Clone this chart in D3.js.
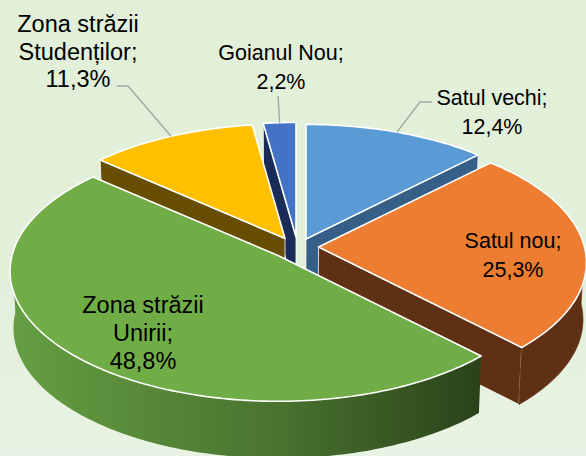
<!DOCTYPE html>
<html>
<head>
<meta charset="utf-8">
<script src="https://cdn.jsdelivr.net/npm/d3@7"></script>
<style>
html,body{margin:0;padding:0;background:#e2efd9;overflow:hidden}
svg{display:block}
text{font-family:"Liberation Sans",Arial,sans-serif;fill:#000}
</style>
</head>
<body>
<svg id="chart" width="586" height="456"></svg>
<script>
// Data (order: clockwise from 12 o'clock)
const categories = ["Satul vechi", "Satul nou", "Zona străzii Unirii", "Zona străzii Studenților", "Goianul Nou"];
const values = [12.4, 25.3, 48.8, 11.3, 2.2];
const labelLines = [
  ["Satul vechi;", "12,4%"],
  ["Satul nou;", "25,3%"],
  ["Zona străzii", "Unirii;", "48,8%"],
  ["Zona străzii", "Studenților;", "11,3%"],
  ["Goianul Nou;", "2,2%"]
];
const topColors  = ["#5b9bd5", "#ed7d31", "#70ad47", "#ffc000", "#4472c4"];
const wallColors = ["#355f86", "#5f3014", "#2b4219", "#664d00", "#1a2d58"];

// Layout
const W = 586, H = 456;
const radiusX = 266, radiusY = 128.3, persp = 0.12, depth = 57, vanish = 0.012, vanishX = 293;
const apexes = [[306, 239], [318.5, 247], [278, 255.5], [285, 238.5], [296, 237]];
const labelPos = [[492, 105], [513, 248], [143, 313], [78, 32], [281, 60]];
const labelSize = [21.5, 21.5, 23.5, 23.5, 21.5];
const lineGap = [28.5, 29, 28, 27.5, 29];
const leaderElbow = [[[432, 102], [420, 102]], null, null, [[117, 86], [128, 86]], [[278, 96]]];
const paintOrder = [4, 3, 0, 1, 2];

const svg = d3.select("#chart");
const defs = svg.append("defs");

const bg = defs.append("linearGradient").attr("id", "bg").attr("x1", 0).attr("y1", 0).attr("x2", 0).attr("y2", 1);
bg.append("stop").attr("offset", 0).attr("stop-color", "#e2efd9");
bg.append("stop").attr("offset", 0.6).attr("stop-color", "#e2efd9");
bg.append("stop").attr("offset", 1).attr("stop-color", "#e9f3e3");
svg.append("rect").attr("width", W).attr("height", H).attr("fill", "url(#bg)");

const sideGrad = defs.append("linearGradient").attr("id", "greenSide")
  .attr("gradientUnits", "userSpaceOnUse").attr("x1", 12).attr("y1", 0).attr("x2", 481).attr("y2", 0);
sideGrad.append("stop").attr("offset", 0).attr("stop-color", "#659e42");
sideGrad.append("stop").attr("offset", 0.55).attr("stop-color", "#4a7530");
sideGrad.append("stop").attr("offset", 1).attr("stop-color", "#2b4219");

const pie = d3.pie().sort(null).value(d => d)(values);

function project(i, angle, r = 1) {
  const u = Math.sin(angle) * r, v = -Math.cos(angle) * r;
  const s = 1 / (1 - persp * v);
  return [apexes[i][0] + radiusX * u * s, apexes[i][1] + radiusY * v * s];
}
const down = p => [p[0] + (vanishX - p[0]) * vanish, p[1] + depth];
const line = d3.line();

function arcPts(i, a0, a1) {
  const n = Math.max(4, Math.ceil((a1 - a0) / 0.02));
  return d3.range(n + 1).map(k => project(i, a0 + (a1 - a0) * k / n));
}

const g = svg.append("g");
paintOrder.forEach(i => {
  const a = pie[i], apex = project(i, 0, 0);
  const pts = arcPts(i, a.startAngle, a.endAngle);
  const first = pts[0], last = pts[pts.length - 1];
  const wall = (p, fill) => g.append("path")
    .attr("d", line([apex, p, down(p), down(apex)]) + "Z")
    .attr("fill", fill).attr("stroke", "#fff").attr("stroke-width", 0.8).attr("stroke-linejoin", "round");
  // only walls that face the viewer
  if (Math.sin(a.startAngle) < -1e-6) wall(first, wallColors[i]);
  if (Math.sin(a.endAngle) > 1e-6) wall(last, wallColors[i]);
  // outer side: only the front half of the rim is visible
  const f0 = Math.max(a.startAngle, Math.PI / 2), f1 = Math.min(a.endAngle, 3 * Math.PI / 2);
  if (f1 > f0) {
    const rim = arcPts(i, f0, f1);
    g.append("path").attr("d", line(rim.concat(rim.map(down).reverse())) + "Z")
      .attr("fill", i === 2 ? "url(#greenSide)" : wallColors[i])
      .attr("stroke", i === 2 ? "none" : wallColors[i]).attr("stroke-width", 0.8);
  }
  // top
  g.append("path").attr("d", line([apex].concat(pts)) + "Z")
    .attr("fill", topColors[i]).attr("stroke", "#fff").attr("stroke-width", 1.6).attr("stroke-linejoin", "round");
});

// Leaders
leaderElbow.forEach((el, i) => {
  if (!el) return;
  const mid = (pie[i].startAngle + pie[i].endAngle) / 2;
  svg.append("path").attr("d", line(el.concat([project(i, mid)])))
    .attr("fill", "none").attr("stroke", "#a6a6a6").attr("stroke-width", 1.4);
});

// Labels
labelLines.forEach((lines, i) => {
  lines.forEach((t, k) => {
    svg.append("text")
      .attr("x", labelPos[i][0])
      .attr("y", labelPos[i][1] + k * lineGap[i])
      .attr("text-anchor", "middle")
      .attr("font-size", labelSize[i])
      .text(t);
  });
});
</script>
</body>
</html>
